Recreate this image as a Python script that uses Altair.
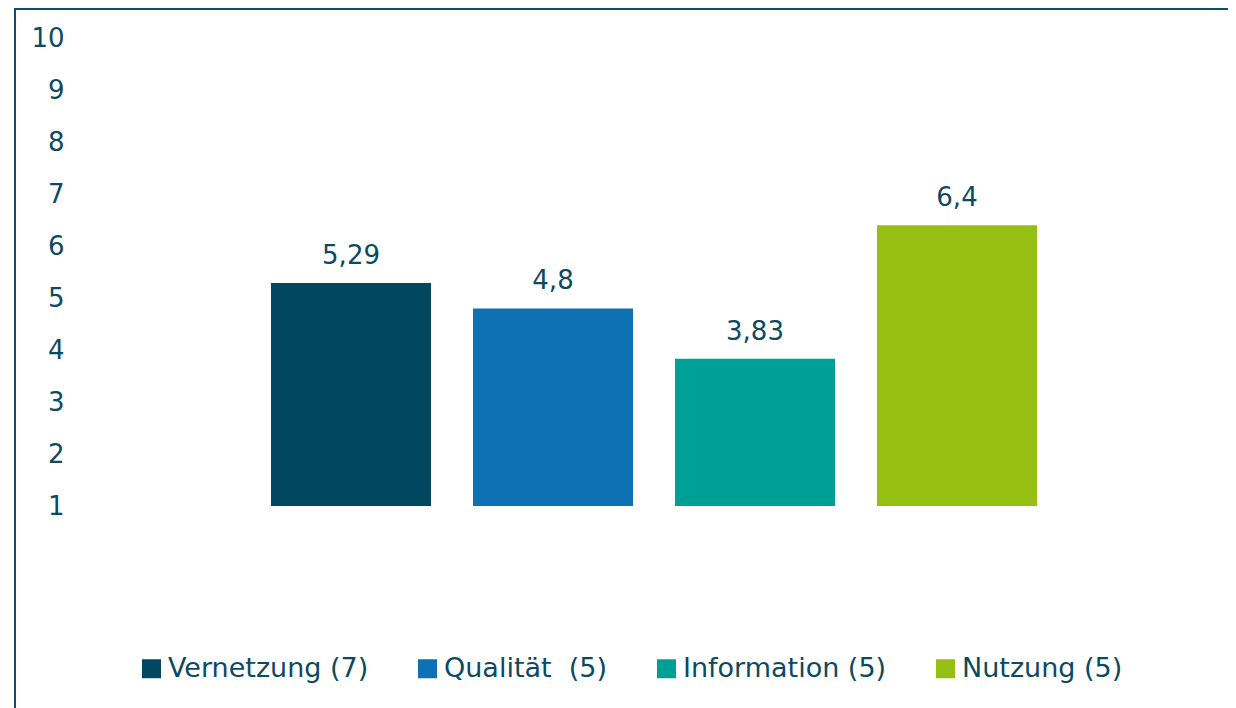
import altair as alt
import pandas as pd

categories = ["Vernetzung", "Qualität", "Information", "Nutzung"]
legend_labels = ["Vernetzung (7)", "Qualität\u00a0 (5)", "Information (5)", "Nutzung (5)"]
values = [5.29, 4.8, 3.83, 6.4]
value_labels = ["5,29", "4,8", "3,83", "6,4"]
colors = ["#00475f", "#0e71b4", "#009f95", "#95bf13"]
y_ticks = [1, 2, 3, 4, 5, 6, 7, 8, 9, 10]

TEXT = "#0c4a62"
FONT = "DejaVu Sans"
W, H = 1132, 468

df = pd.DataFrame({
    "cat": categories,
    "legend": legend_labels,
    "value": values,
    "label": value_labels,
})

xscale = alt.Scale(domain=categories, paddingInner=0.2079, paddingOuter=0.906)
yscale = alt.Scale(domain=[1, 10], nice=False, zero=False)

base = alt.Chart(df)

bars = base.mark_bar().encode(
    x=alt.X("cat:N", sort=categories, scale=xscale, axis=None),
    y=alt.Y("value:Q", scale=yscale,
            axis=alt.Axis(values=y_ticks, title=None, domain=False, ticks=False, grid=False,
                          labelFontSize=26, labelColor=TEXT, labelFont=FONT, labelPadding=24,
                          labelAlign="right")),
    y2=alt.datum(1),
    color=alt.Color("legend:N", sort=legend_labels,
                    scale=alt.Scale(domain=legend_labels, range=colors),
                    legend=alt.Legend(title=None, orient="none", legendX=50, legendY=617,
                                      direction="horizontal", symbolType="square",
                                      symbolSize=361, symbolStrokeWidth=0, symbolOpacity=1,
                                      labelFontSize=27, labelColor=TEXT, labelFont=FONT,
                                      labelOffset=3, columnPadding=45, labelLimit=400)),
)

texts = base.mark_text(fontSize=26, color=TEXT, font=FONT, baseline="alphabetic", dy=-19).encode(
    x=alt.X("cat:N", sort=categories, scale=xscale, axis=None),
    y=alt.Y("value:Q", scale=yscale),
    text="label:N",
)

top_line = alt.Chart(df).mark_rule(color="#0d5068", strokeWidth=2).encode(
    x=alt.value(-73), x2=alt.value(W + 8), y=alt.value(-29)
)
left_line = alt.Chart(df).mark_rule(color="#0d5068", strokeWidth=2).encode(
    x=alt.value(-73), y=alt.value(-30), y2=alt.value(H + 210)
)

chart = alt.layer(bars, texts, top_line, left_line).properties(
    width=W, height=H,
    autosize=alt.AutoSizeParams(type="none"),
    padding={"left": 80, "top": 30, "right": 8, "bottom": 202},
).configure(font=FONT).configure_view(strokeOpacity=0, strokeWidth=0, stroke="transparent")

chart.save("out.html", embed_options={"renderer": "svg", "actions": False})
